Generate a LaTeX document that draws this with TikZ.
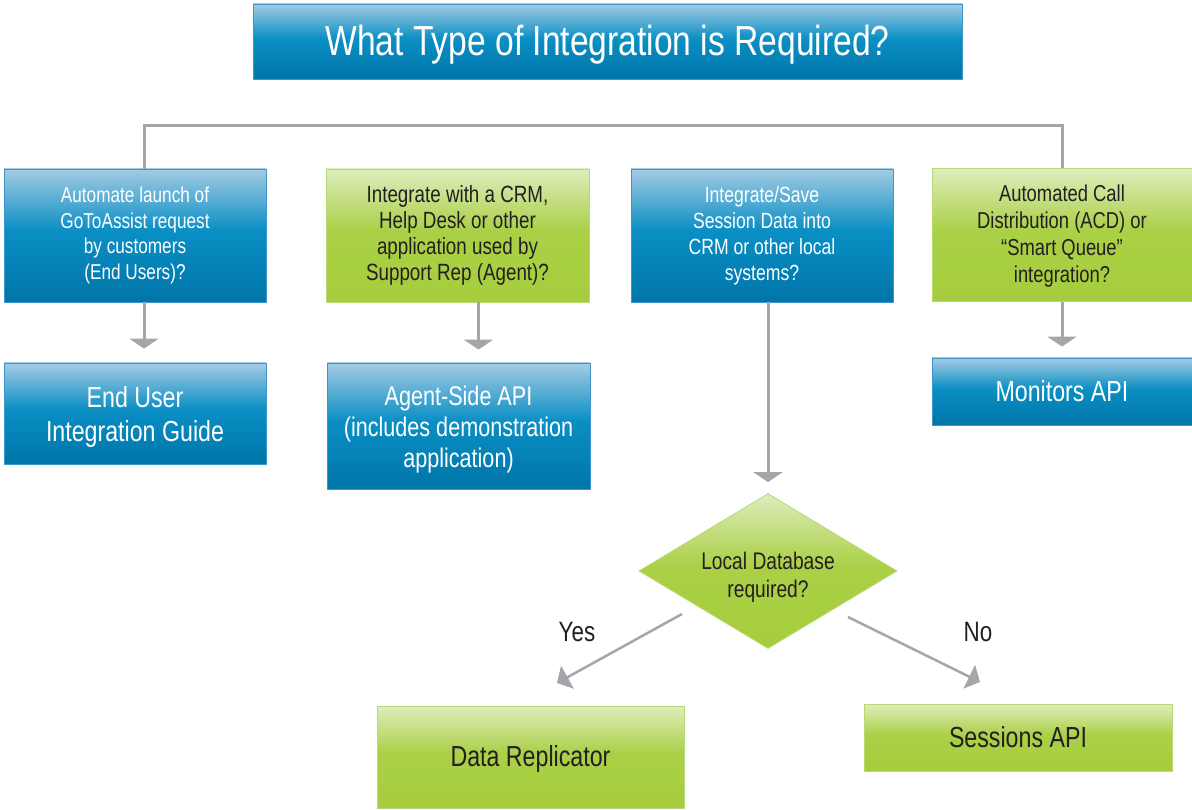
\documentclass[tikz,border=0pt]{standalone}
\usepackage{fontspec}
\setmainfont{Liberation Sans}[FakeStretch=0.8]
\usetikzlibrary{arrows.meta,shapes.geometric}

\definecolor{bluetop}{HTML}{A4CBE4}
\definecolor{bluemid}{HTML}{0A8FC4}
\definecolor{bluebot}{HTML}{0075A9}
\definecolor{blueedge}{HTML}{3D95CB}
\definecolor{greentop}{HTML}{DEEDBD}
\definecolor{greenmid}{HTML}{ABD047}
\definecolor{greenbot}{HTML}{A6CD3C}
\definecolor{greenedge}{HTML}{B8DA74}
\definecolor{textdark}{HTML}{231F20}
\definecolor{linegray}{HTML}{A5A6AA}

% light top fading into the body colour, slightly darker at the bottom
\pgfdeclareverticalshading{blueshade}{100bp}{color(0bp)=(bluebot); color(25bp)=(bluebot);
  color(52bp)=(bluemid); color(75bp)=(bluetop); color(100bp)=(bluetop)}
\pgfdeclareverticalshading{greenshade}{100bp}{color(0bp)=(greenbot); color(25bp)=(greenbot);
  color(52bp)=(greenmid); color(75bp)=(greentop); color(100bp)=(greentop)}

% sets a block of centred lines a little lower without changing its reported size
\newcommand{\lowered}[2]{\raisebox{-#1}[\height][\depth]{\begin{tabular}{@{}c@{}}#2\end{tabular}}}

\begin{document}
\begin{tikzpicture}[x=1pt,y=-1pt,
  box/.style={rectangle, inner sep=0pt, align=center, line width=0.8pt},
  bluebox/.style={box, draw=blueedge, shading=blueshade, text=white},
  greenbox/.style={box, draw=greenedge, shading=greenshade, text=textdark},
  qsmall/.style={font=\fontsize{21.5}{25.7}\selectfont},
  qbig/.style={font=\fontsize{23.5}{26}\selectfont},
  ans/.style={font=\fontsize{29}{34.5}\selectfont},
  lbl/.style={inner sep=0pt, text=textdark, font=\fontsize{28}{32}\selectfont},
  link/.style={draw=linegray, line width=3pt},
  arr/.style={link, -{Triangle[width=29pt,length=10pt]}},
  darr/.style={draw=linegray, line width=2.5pt, -{Triangle[width=26pt,length=12pt]}}
]
\useasboundingbox (0,0) rectangle (1192,810);

% heading
\node[bluebox, minimum width=709, minimum height=75,
      font=\fontsize{42}{46}\selectfont] (title) at (607.5,41.5)
  {\lowered{5pt}{What Type of Integration is Required?}};

% questions
\node[bluebox, qsmall, minimum width=262, minimum height=133] (b1) at (135,235.5)
  {Automate launch of\\GoToAssist request\\by customers\\(End Users)?};
\node[greenbox, qbig, minimum width=263, minimum height=133] (b2) at (457.5,235.5)
  {Integrate with a CRM,\\Help Desk or other\\application used by\\Support Rep (Agent)?};
\node[bluebox, font=\fontsize{22}{26}\selectfont, minimum width=262, minimum height=133] (b3) at (762,235.5)
  {Integrate/Save\\Session Data into\\CRM or other local\\systems?};
\node[greenbox, font=\fontsize{23}{27}\selectfont, minimum width=260, minimum height=133] (b4) at (1062,235)
  {\lowered{1.5pt}{Automated Call\\Distribution (ACD) or\\“Smart Queue”\\integration?}};

% answers
\node[bluebox, ans, minimum width=262, minimum height=101] (r1) at (135,413.5)
  {\lowered{4pt}{End User\\Integration Guide}};
\node[bluebox, font=\fontsize{27}{31}\selectfont, minimum width=263, minimum height=126] (r2) at (458.5,426)
  {\lowered{4pt}{Agent-Side API\\(includes demonstration\\application)}};
\node[bluebox, ans, minimum width=260, minimum height=67] (r4) at (1062,391.5)
  {Monitors API};

% decision
\node[diamond, aspect=1.66, inner sep=0pt, minimum width=258, minimum height=155,
      draw=greenedge, line width=0.8pt, shading=greenshade, text=textdark, align=center,
      font=\fontsize{24}{28}\selectfont] (dia) at (768,571)
  {\lowered{7pt}{Local Database\\required?}};

\node[greenbox, ans, minimum width=307, minimum height=102] (dr) at (530.5,757)
  {\lowered{3pt}{Data Replicator}};
\node[greenbox, ans, minimum width=308, minimum height=67] (sa) at (1018,737.5)
  {Sessions API};

% branch bar across the top
\draw[link] ([xshift=9pt]b1.north) -- ++(0,-43) -| (b4.north);

% downward arrows
\draw[arr, shorten >=14pt] ([xshift=9pt]b1.south) -- ([xshift=9pt]r1.north);
\draw[arr, shorten >=13pt] ([xshift=21pt]b2.south) -- ([xshift=20pt]r2.north);
\draw[arr, shorten >=11pt] (b4.south) -- (r4.north);
\draw[arr, shorten >=11pt] ([xshift=6pt]b3.south) -- (dia.north);

% yes / no branches
\coordinate (ys) at (682,614);
\coordinate (ye) at (557,683);
\coordinate (ns) at (848,617);
\coordinate (ne) at (980,682);
\draw[darr] (ys) -- (ye);
\draw[darr] (ns) -- (ne);
\node[lbl] (yes) at (577,632) {Yes};
\node[lbl] (no) at (978,632) {No};
\end{tikzpicture}
\end{document}
